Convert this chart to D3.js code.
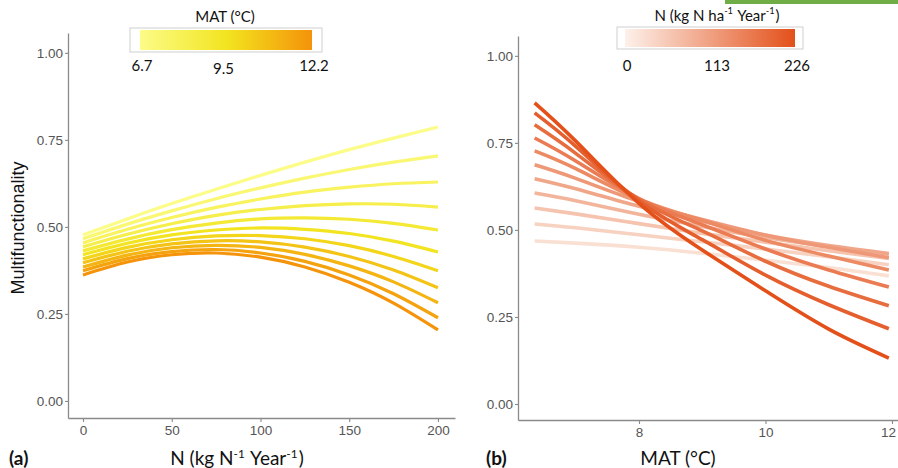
<!DOCTYPE html>
<html>
<head>
<meta charset="utf-8">
<script src="https://cdn.jsdelivr.net/npm/d3@7"></script>
<style>
  body { margin: 0; background: #fff; }
  svg { display: block; }
</style>
</head>
<body>
<script>
// panel (a): multifunctionality vs N, one line per MAT level
const matLevels = [6.7, 7.25, 7.8, 8.35, 8.9, 9.45, 10.0, 10.55, 11.1, 11.65, 12.2];
const nGrid = [0, 25, 50, 75, 100, 125, 150, 175, 200];
const mfByMat = [
  [0.477, 0.523, 0.567, 0.608, 0.648, 0.686, 0.722, 0.755, 0.787],
  [0.466, 0.508, 0.546, 0.581, 0.612, 0.640, 0.665, 0.686, 0.704],
  [0.454, 0.493, 0.527, 0.556, 0.580, 0.600, 0.614, 0.624, 0.629],
  [0.443, 0.479, 0.509, 0.533, 0.550, 0.561, 0.566, 0.565, 0.557],
  [0.431, 0.465, 0.492, 0.511, 0.523, 0.526, 0.522, 0.510, 0.491],
  [0.420, 0.453, 0.477, 0.491, 0.497, 0.493, 0.481, 0.459, 0.428],
  [0.408, 0.441, 0.463, 0.474, 0.475, 0.466, 0.446, 0.415, 0.374],
  [0.397, 0.430, 0.451, 0.460, 0.457, 0.442, 0.415, 0.376, 0.325],
  [0.385, 0.419, 0.440, 0.447, 0.441, 0.421, 0.388, 0.342, 0.282],
  [0.374, 0.409, 0.429, 0.435, 0.425, 0.401, 0.362, 0.308, 0.239],
  [0.362, 0.399, 0.420, 0.425, 0.413, 0.385, 0.341, 0.281, 0.204]
];
const nTicks = [0, 50, 100, 150, 200];
const matLegendTicks = [6.7, 9.5, 12.2];

// panel (b): multifunctionality vs MAT, one line per N level
const nLevels = [0, 22.6, 45.2, 67.8, 90.4, 113, 135.6, 158.2, 180.8, 203.4, 226];
const matGrid = [6.35, 7, 8, 9, 10, 11, 11.95];
const mfByN = [
  [0.468, 0.462, 0.450, 0.433, 0.413, 0.392, 0.368],
  [0.517, 0.506, 0.486, 0.466, 0.445, 0.423, 0.400],
  [0.563, 0.546, 0.518, 0.490, 0.465, 0.440, 0.418],
  [0.606, 0.584, 0.545, 0.510, 0.478, 0.452, 0.430],
  [0.647, 0.618, 0.568, 0.525, 0.485, 0.455, 0.432],
  [0.687, 0.648, 0.582, 0.530, 0.485, 0.450, 0.420],
  [0.727, 0.676, 0.588, 0.527, 0.470, 0.425, 0.385],
  [0.764, 0.698, 0.590, 0.515, 0.445, 0.385, 0.336],
  [0.802, 0.720, 0.588, 0.497, 0.410, 0.338, 0.282],
  [0.836, 0.740, 0.583, 0.472, 0.370, 0.285, 0.216],
  [0.865, 0.755, 0.576, 0.442, 0.325, 0.215, 0.132]
];
const matTicks = [8, 10, 12];
const nLegendTicks = [0, 113, 226];

const mfTicks = [0, 0.25, 0.5, 0.75, 1];

const width = 898, height = 468;
const tickFont = "'Liberation Sans', Arial, sans-serif";
const titleFont = "Lato, 'Open Sans', sans-serif";
const axisGrey = "#8a8a8a";

const svg = d3.select("body").append("svg")
  .attr("width", width)
  .attr("height", height);

const defs = svg.append("defs");

// colour scales
const matColor = d3.scaleLinear()
  .domain([6.7, 9.5, 12.2])
  .range(["#fcfc88", "#f2e41e", "#f5930a"]);
const nColor = d3.scaleLinear()
  .domain([0, 226])
  .range(["#f9e0d3", "#e3501a"]);

// green strip at top right
svg.append("rect")
  .attr("x", 725).attr("y", 0)
  .attr("width", 173).attr("height", 4)
  .attr("fill", "#70ad47");

function styleAxis(g) {
  g.select(".domain").attr("stroke", axisGrey).attr("stroke-width", 1.3);
  g.selectAll(".tick line").attr("stroke", axisGrey).attr("stroke-width", 1.1);
  g.selectAll(".tick text")
    .attr("fill", "#555")
    .style("font-family", tickFont)
    .style("font-size", "13.5px");
}

// write text with superscript parts: parts = [[text, isSup], ...]
function richText(sel, parts) {
  parts.forEach(p => {
    if (p[1]) {
      sel.append("tspan").attr("dy", -7).style("font-size", "0.62em").text(p[0]);
      sel.append("tspan").attr("dy", 7).text("\u200A");
    } else {
      sel.append("tspan").text(p[0]);
    }
  });
}

// ---------- panel (a) ----------
const xA = d3.scaleLinear().domain([-8.45, 209.6]).range([68, 455]);
const yA = d3.scaleLinear().domain([-0.049, 1.057]).range([418, 33]);

svg.append("g")
  .attr("transform", "translate(0,418)")
  .call(d3.axisBottom(xA).tickValues(nTicks).tickSize(4).tickPadding(3).tickSizeOuter(0))
  .call(styleAxis);

svg.append("g")
  .attr("transform", "translate(68,0)")
  .call(d3.axisLeft(yA).tickValues(mfTicks).tickFormat(d3.format(".2f")).tickSize(3).tickPadding(2).tickSizeOuter(0))
  .call(styleAxis);

const lineA = d3.line()
  .x(d => xA(d[0]))
  .y(d => yA(d[1]))
  .curve(d3.curveNatural);

svg.append("g").selectAll("path")
  .data(mfByMat)
  .join("path")
  .attr("d", vals => lineA(vals.map((v, i) => [nGrid[i], v])))
  .attr("fill", "none")
  .attr("stroke", (vals, i) => matColor(matLevels[i]))
  .attr("stroke-width", 3.2);

svg.append("text")
  .attr("transform", "translate(24,228) rotate(-90)")
  .attr("text-anchor", "middle")
  .style("font-family", tickFont)
  .style("font-size", "18px")
  .attr("fill", "#111")
  .text("Multifunctionality");

richText(svg.append("text")
  .attr("x", 237).attr("y", 465)
  .attr("text-anchor", "middle")
  .style("font-family", titleFont)
  .style("font-size", "19px")
  .attr("fill", "#111"),
  [["N (kg N", false], ["-1", true], [" Year", false], ["-1", true], [")", false]]);

svg.append("text")
  .attr("x", 9).attr("y", 465)
  .style("font-family", titleFont)
  .style("font-size", "19px")
  .style("font-weight", "bold")
  .attr("fill", "#111")
  .text("(a)");

// legend (a)
const gradA = defs.append("linearGradient").attr("id", "gradMat");
d3.range(0, 1.0001, 0.1).forEach(t => {
  gradA.append("stop")
    .attr("offset", t)
    .attr("stop-color", matColor(6.7 + t * 5.5));
});
svg.append("rect")
  .attr("x", 130).attr("y", 28).attr("width", 192).attr("height", 24)
  .attr("fill", "#fff").attr("stroke", "#cfcfcf");
const legA = d3.scaleLinear().domain([6.7, 12.2]).range([140, 312]);
svg.append("rect")
  .attr("x", legA(6.7)).attr("y", 30)
  .attr("width", legA(12.2) - legA(6.7)).attr("height", 20)
  .attr("fill", "url(#gradMat)");
svg.append("text")
  .attr("x", 225).attr("y", 22)
  .attr("text-anchor", "middle")
  .style("font-family", titleFont)
  .style("font-size", "15px")
  .attr("fill", "#111")
  .text("MAT (\u00B0C)");
svg.selectAll(".legAtick")
  .data(matLegendTicks)
  .join("text")
  .attr("x", d => legA(d) + (d === 9.5 ? -4 : 2))
  .attr("y", d => d === 9.5 ? 74 : 71)
  .attr("text-anchor", "middle")
  .style("font-family", titleFont)
  .style("font-size", "15px")
  .attr("fill", "#111")
  .text(d => d.toFixed(1));

// ---------- panel (b) ----------
const xB = d3.scaleLinear().domain([6.087, 12.095]).range([518, 898]);
const yB = d3.scaleLinear().domain([-0.046, 1.057]).range([420, 36]);

const xAxisB = svg.append("g")
  .attr("transform", "translate(0,420)")
  .call(d3.axisBottom(xB).tickValues(matTicks).tickFormat(d3.format("d")).tickSize(4).tickPadding(3).tickSizeOuter(0))
  .call(styleAxis);
// last label sits on the page edge; nudge it so it stays visible
xAxisB.selectAll(".tick text").filter(d => d === 12).attr("dx", -4);

svg.append("g")
  .attr("transform", "translate(518,0)")
  .call(d3.axisLeft(yB).tickValues(mfTicks).tickFormat(d3.format(".2f")).tickSize(3).tickPadding(2).tickSizeOuter(0))
  .call(styleAxis);

const lineB = d3.line()
  .x(d => xB(d[0]))
  .y(d => yB(d[1]))
  .curve(d3.curveNatural);

svg.append("g").selectAll("path")
  .data(mfByN)
  .join("path")
  .attr("d", vals => lineB(vals.map((v, i) => [matGrid[i], v])))
  .attr("fill", "none")
  .attr("stroke", (vals, i) => nColor(nLevels[i]))
  .attr("stroke-width", 3.6);

svg.append("text")
  .attr("x", 678).attr("y", 465)
  .attr("text-anchor", "middle")
  .style("font-family", titleFont)
  .style("font-size", "19px")
  .attr("fill", "#111")
  .text("MAT (\u00B0C)");

svg.append("text")
  .attr("x", 486).attr("y", 465)
  .style("font-family", titleFont)
  .style("font-size", "19px")
  .style("font-weight", "bold")
  .attr("fill", "#111")
  .text("(b)");

// legend (b)
const gradB = defs.append("linearGradient").attr("id", "gradN");
gradB.append("stop").attr("offset", 0).attr("stop-color", "#fdf1ea");
gradB.append("stop").attr("offset", 1).attr("stop-color", "#e3501a");
svg.append("rect")
  .attr("x", 617).attr("y", 27).attr("width", 186).attr("height", 22)
  .attr("fill", "#fff").attr("stroke", "#cfcfcf");
const legB = d3.scaleLinear().domain([0, 226]).range([625, 795]);
svg.append("rect")
  .attr("x", legB(0)).attr("y", 29)
  .attr("width", legB(226) - legB(0)).attr("height", 18)
  .attr("fill", "url(#gradN)");
richText(svg.append("text")
  .attr("x", 717).attr("y", 21)
  .attr("text-anchor", "middle")
  .style("font-family", titleFont)
  .style("font-size", "15px")
  .attr("fill", "#111"),
  [["N (kg N ha", false], ["-1", true], [" Year", false], ["-1", true], [")", false]]);
svg.selectAll(".legBtick")
  .data(nLegendTicks)
  .join("text")
  .attr("x", d => legB(d) + (d === 113 ? 7 : 2))
  .attr("y", 71)
  .attr("text-anchor", "middle")
  .style("font-family", titleFont)
  .style("font-size", "15px")
  .attr("fill", "#111")
  .text(d => d);
</script>
</body>
</html>
